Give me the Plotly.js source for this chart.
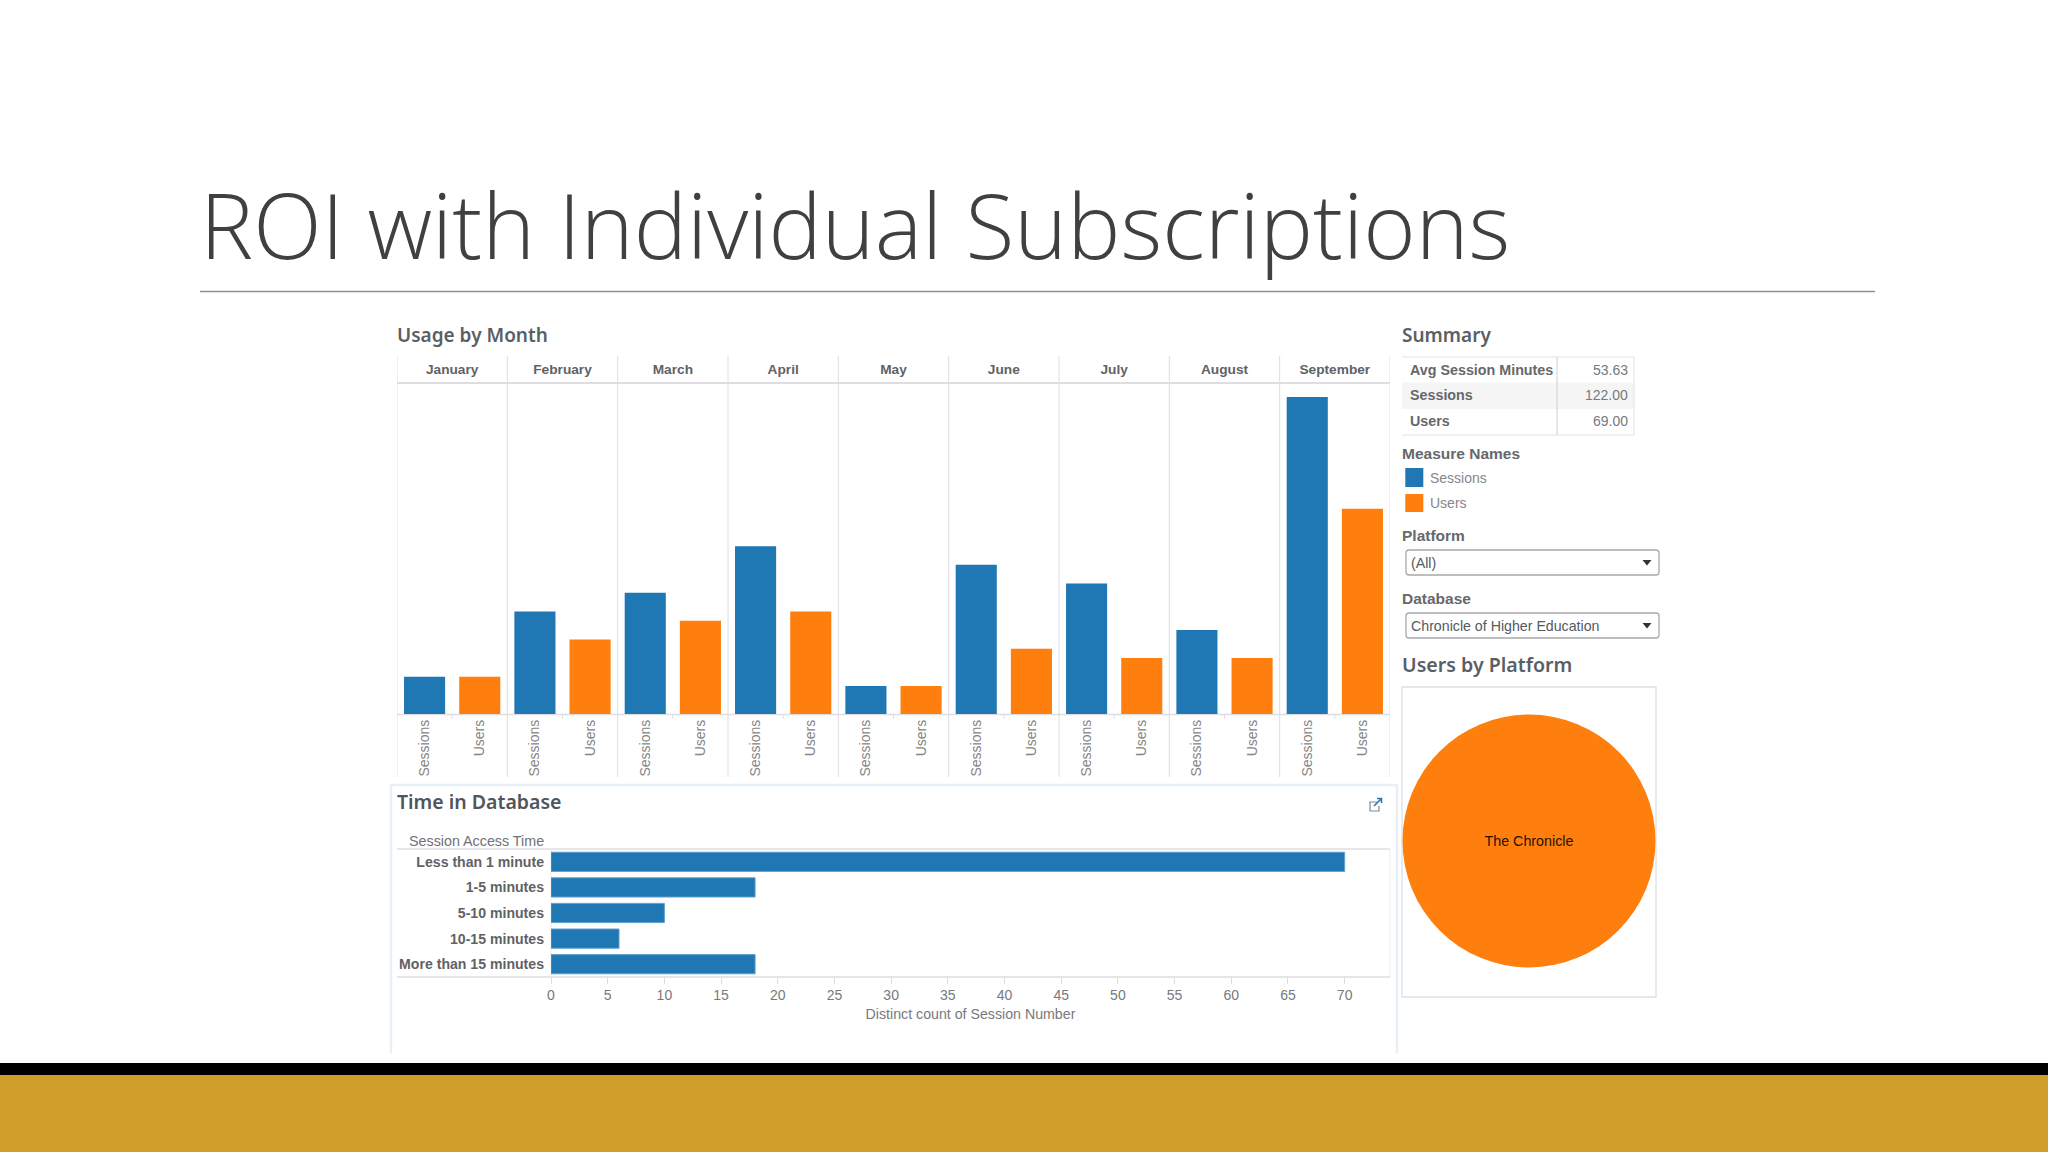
<!DOCTYPE html>
<html><head><meta charset="utf-8">
<script src="https://cdn.plot.ly/plotly-3.0.1.min.js"></script>
<style>html,body{margin:0;padding:0;background:#fff;overflow:hidden}#c{width:2048px;height:1152px}</style>
</head><body><div id="c"></div>
<script>
const months = ["January","February","March","April","May","June","July","August","September"];
const measures = ["Sessions","Users"];
const sessions = [4,11,13,18,3,16,14,9,34];
const users = [4,8,10,11,3,7,6,6,22];
const timeLabels = ["Less than 1 minute","1-5 minutes","5-10 minutes","10-15 minutes","More than 15 minutes"];
const timeValues = [70,18,10,6,18];
const timeTicks = [0,5,10,15,20,25,30,35,40,45,50,55,60,65,70];
const summaryLabels = ["Avg Session Minutes","Sessions","Users"];
const summaryValues = ["53.63","122.00","69.00"];
const platformLabels = ["The Chronicle"];
const platformValues = [69];
const slideTitle = "ROI with Individual Subscriptions";

const BLUE="#1F77B4", ORANGE="#FF7F0E", W=2048, H=1152;
const X=p=>p/W, Y=p=>1-p/H;
const SANS="Liberation Sans, Arial, sans-serif", HEAD="Noto Sans, sans-serif";
const xCats = months.flatMap(m=>measures.map(s=>m+" "+s));
const xText = months.flatMap(()=>measures);

const traces = [
 {type:"bar",name:"Sessions",x:months.map(m=>m+" Sessions"),y:sessions,width:0.745,marker:{color:BLUE},xaxis:"x",yaxis:"y",hoverinfo:"x+y",showlegend:false},
 {type:"bar",name:"Users",x:months.map(m=>m+" Users"),y:users,width:0.745,marker:{color:ORANGE},xaxis:"x",yaxis:"y",hoverinfo:"x+y",showlegend:false},
 {type:"scatter",mode:"markers",x:months,y:sessions,marker:{opacity:0,size:1},xaxis:"x2",yaxis:"y",hoverinfo:"skip",showlegend:false},
 {type:"bar",orientation:"h",name:"Time in Database",x:timeValues,y:timeLabels,width:0.75,marker:{color:BLUE,line:{color:"#5fa0cf",width:1}},xaxis:"x3",yaxis:"y3",hoverinfo:"x+y",showlegend:false},
 {type:"pie",labels:platformLabels,values:platformValues,marker:{colors:[ORANGE]},textinfo:"label",textposition:"inside",insidetextorientation:"horizontal",
  textfont:{family:SANS,size:14.3,color:"#241203"},domain:{x:[X(1402.5),X(1655.5)],y:[Y(968),Y(714)]},sort:false,showlegend:false,hoverinfo:"label+value"}
];

const LG="#dedee2";
const rect=(x0,y0,x1,y1,fill,line,lw,layer)=>({type:"rect",xref:"paper",yref:"paper",x0:X(x0),x1:X(x1),y0:Y(y0),y1:Y(y1),fillcolor:fill||"rgba(0,0,0,0)",line:{color:line||"rgba(0,0,0,0)",width:lw||0},layer:layer||"below"});
const seg=(x0,y0,x1,y1,c,lw)=>({type:"line",xref:"paper",yref:"paper",x0:X(x0),x1:X(x1),y0:Y(y0),y1:Y(y1),line:{color:c,width:lw||1},layer:"below"});
const P=(pts,extra)=>Object.assign({type:"path",xref:"paper",yref:"paper",layer:"above",path:pts},extra);
const px=(x,y)=>X(x)+","+Y(y);
function roundBox(x0,y0,x1,y1,r){return "M"+px(x0+r,y0)+"L"+px(x1-r,y0)+"Q"+px(x1,y0)+" "+px(x1,y0+r)+"L"+px(x1,y1-r)+"Q"+px(x1,y1)+" "+px(x1-r,y1)+"L"+px(x0+r,y1)+"Q"+px(x0,y1)+" "+px(x0,y1-r)+"L"+px(x0,y0+r)+"Q"+px(x0,y0)+" "+px(x0+r,y0)+"Z";}
const tri=(cx,cy)=>"M"+px(cx-4.5,cy-2.5)+"L"+px(cx+4.5,cy-2.5)+"L"+px(cx,cy+3)+"Z";

const shapes=[
 rect(0,1063,W,1075,"#000000"), rect(0,1075,W,H,"#D09C2A"),
 seg(200,291.5,1875,291.5,"#8f8f8f",1.3),
 // month dividers
 ...months.map((m,i)=>({type:"line",xref:"x2",yref:"paper",x0:i-0.5,x1:i-0.5,y0:Y(356),y1:Y(777),line:{color:LG,width:1},layer:"below"})),
 {type:"line",xref:"x2",yref:"paper",x0:8.5,x1:8.5,y0:Y(356),y1:Y(777),line:{color:LG,width:1},layer:"below"},
 ...months.map((m,i)=>({type:"line",xref:"x2",yref:"paper",x0:i,x1:i,y0:Y(714),y1:Y(719),line:{color:LG,width:1},layer:"below"})),
 seg(397,383,1390,383,LG,2), seg(397,714.5,1390,714.5,LG,1.5),
 // time panel
 seg(391,785,1397,785,"#e7f0f7",2.5), seg(391,784,391,1053,"#e7f0f7",2.5), seg(1397,784,1397,1053,"#e7f0f7",2.5),
 seg(397,849,1390,849,LG,1.5), seg(397,977,1390,977,LG,1.5), seg(1390,849,1390,977,"#ececee",1), seg(551,849,551,977,"#ececee",1),
 // export icon
 P("M"+px(1377,802)+"L"+px(1370,802)+"L"+px(1370,811)+"L"+px(1379,811)+"L"+px(1379,806),{line:{color:"#7f8b99",width:1.2}}),
 P("M"+px(1374,806)+"L"+px(1381,799)+"M"+px(1377,798.5)+"L"+px(1381.5,798.5)+"L"+px(1381.5,803),{line:{color:"#2f78b7",width:1.6}}),
 // summary table
 rect(1402,382.5,1634,409,"#f5f5f6"), 
 seg(1402,357,1634,357,"#e4e4e6",1), seg(1402,435,1634,435,"#e4e4e6",1), seg(1634,357,1634,435,"#e4e4e6",1), seg(1557,357,1557,435,"#cfcfd3",1),
 // legend swatches
 rect(1405.3,468,1423.3,487,BLUE), rect(1405.3,494,1423.3,512,ORANGE),
 // dropdowns
 P(roundBox(1406,550,1659,575,3),{line:{color:"#a9a9ad",width:1.3},layer:"below"}),
 P(roundBox(1406,613,1659,638,3),{line:{color:"#a9a9ad",width:1.3},layer:"below"}),
 P(tri(1647,562.5),{fillcolor:"#333333",line:{width:0}}), P(tri(1647,625.5),{fillcolor:"#333333",line:{width:0}}),
 // pie frame
 rect(1402,687,1656,997,"rgba(0,0,0,0)","#dfe0e4",1.3)
];

const txt=(t,x,y,size,color,opt)=>Object.assign({text:t,x:X(x),y:Y(y),xref:"paper",yref:"paper",xanchor:"left",yanchor:"middle",showarrow:false,align:"left",
  font:{family:(opt&&opt.family)||SANS,size:size,color:color,weight:(opt&&opt.weight)||400}},opt&&opt.a?{xanchor:opt.a}:{});
const HC="#5a5f66", BC="#66686c";
const annotations=[
 txt(slideTitle,197.5,224,89.5,"#404040",{family:"Open Sans, sans-serif",weight:300}),
 txt("Usage by Month",394.5,335,19,HC,{family:HEAD,weight:600}),
 txt("Time in Database",394.5,801,19.5,"#50555b",{family:HEAD,weight:600}),
 txt("Summary",1399.5,335,19,HC,{family:HEAD,weight:600}),
 txt("Users by Platform",1399.5,664,19.6,HC,{family:HEAD,weight:600}),
 txt("Session Access Time",546,840.5,14.3,"#6f7276",{a:"right"}),
 ...summaryLabels.map((s,i)=>txt(s,1407.5,369.5+i*25.7,14.3,BC,{weight:700})),
 ...summaryValues.map((s,i)=>txt(s,1629.5,369.5+i*25.7,14,"#77797d",{a:"right"})),
 txt("Measure Names",1399.5,453.5,15.5,BC,{weight:700}),
 txt(measures[0],1427.5,477.5,14,"#85878b"),
 txt(measures[1],1427.5,503,14,"#85878b"),
 txt("Platform",1399.5,535,15.5,BC,{weight:700}),
 txt("(All)",1408.5,562.5,14.2,"#555a60"),
 txt("Database",1399.5,598,15.5,BC,{weight:700}),
 txt("Chronicle of Higher Education",1408.5,625.5,14.2,"#555a60")
];

const layout={
 width:W,height:H,margin:{l:0,r:0,t:0,b:0},paper_bgcolor:"#ffffff",plot_bgcolor:"rgba(0,0,0,0)",font:{family:SANS},showlegend:false,barmode:"overlay",
 xaxis:{domain:[X(397),X(1390)],anchor:"y",type:"category",categoryorder:"array",categoryarray:xCats,tickmode:"array",tickvals:xCats,ticktext:xText,tickangle:-90,
  range:[-0.5,17.5],showgrid:false,zeroline:false,showline:false,ticks:"",ticklabelstandoff:2,tickfont:{family:SANS,size:14,color:"#858585"},automargin:false},
 xaxis2:{domain:[X(397),X(1390)],anchor:"y",overlaying:"x",side:"top",type:"category",categoryorder:"array",categoryarray:months,tickmode:"array",tickvals:months,ticktext:months,
  range:[-0.5,8.5],showgrid:false,zeroline:false,showline:false,ticks:"",ticklabelstandoff:5,tickfont:{family:SANS,size:13.7,color:"#5f6266",weight:700},automargin:false},
 yaxis:{domain:[Y(714),Y(383)],anchor:"x",range:[0,35.5],visible:false,fixedrange:true},
 xaxis3:{domain:[X(551),X(1390)],anchor:"y3",range:[0,74],tickmode:"array",tickvals:timeTicks,ticks:"outside",ticklen:6,tickcolor:"#dedee2",tickwidth:1,showgrid:false,zeroline:false,showline:false,ticklabelstandoff:-1,
  tickfont:{family:SANS,size:14,color:"#77797d"},title:{text:"Distinct count of Session Number",font:{family:SANS,size:14.2,color:"#77797d"},standoff:7},automargin:false},
 yaxis3:{domain:[Y(977),Y(849)],anchor:"x3",type:"category",categoryorder:"array",categoryarray:timeLabels,range:[4.5,-0.5],showgrid:false,zeroline:false,showline:false,ticks:"",ticklabelstandoff:6,
  tickfont:{family:SANS,size:14.1,color:"#5f6266",weight:700},automargin:false},
 shapes,annotations
};
Plotly.newPlot("c",traces,layout,{displayModeBar:false,responsive:false});
</script></body></html>
